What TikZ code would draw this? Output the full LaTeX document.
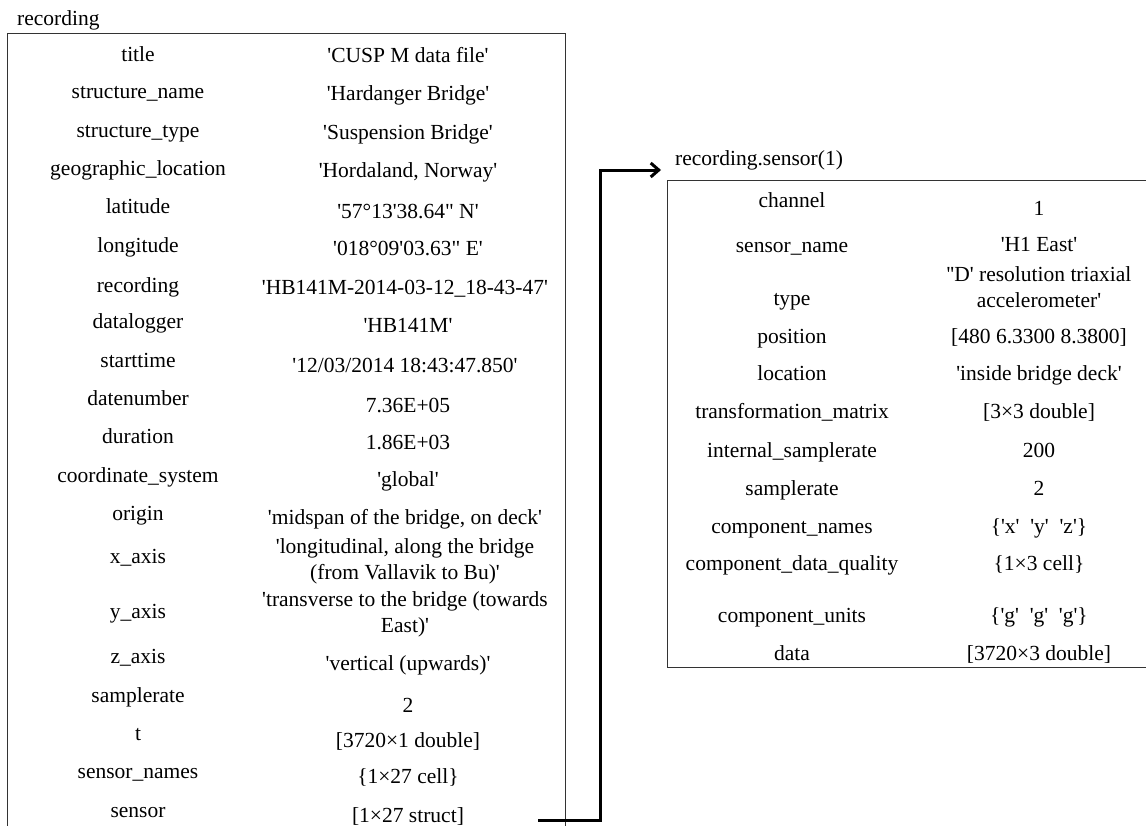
\documentclass[tikz,border=0pt]{standalone}
\usepackage{fontspec}
\setmainfont{Liberation Serif}[Ligatures=TeXOff]
\usetikzlibrary{arrows.meta}
\begin{document}
\begin{tikzpicture}[x=1pt,y=-1pt,
  txt/.style={inner sep=0pt, text height=15pt, text depth=5pt, align=center,
    font=\fontsize{21.5}{26}\selectfont},
  fname/.style={txt},
  fval/.style={txt},
  fval2/.style={inner sep=0pt, align=center, font=\fontsize{21.5}{26}\selectfont},
  boxline/.style={draw=black!80, line width=1pt},
  link/.style={draw=black, line width=3pt, line cap=butt},
]
\useasboundingbox (0,0) rectangle (1146,825);

% ---------- left structure ----------
\node[txt, anchor=west] (labL) at (17,20) {recording};
\draw[boxline] (7,826) -- (7,33) -- (565,33) -- (565,826);

\node[fname] (n1) at (138,56) {title};
\node[fval]  (v1) at (408,57) {'CUSP M data file'};
\node[fname] (n2) at (138,93) {structure\_name};
\node[fval]  (v2) at (408,95) {'Hardanger Bridge'};
\node[fname] (n3) at (138,132) {structure\_type};
\node[fval]  (v3) at (408,134) {'Suspension Bridge'};
\node[fname] (n4) at (138,170) {geographic\_location};
\node[fval]  (v4) at (408,172) {'Hordaland, Norway'};
\node[fname] (n5) at (138,208) {latitude};
\node[fval]  (v5) at (408,213) {'57°13'38.64" N'};
\node[fname] (n6) at (138,247) {longitude};
\node[fval]  (v6) at (408,250) {'018°09'03.63" E'};
\node[fname] (n7) at (138,287) {recording};
\node[fval]  (v7) at (405,289) {'HB141M-2014-03-12\_18-43-47'};
\node[fname] (n8) at (138,323) {datalogger};
\node[fval]  (v8) at (408,327) {'HB141M'};
\node[fname] (n9) at (138,362) {starttime};
\node[fval]  (v9) at (405,367) {'12/03/2014 18:43:47.850'};
\node[fname] (n10) at (138,400) {datenumber};
\node[fval]  (v10) at (408,407) {7.36E+05};
\node[fname] (n11) at (138,438) {duration};
\node[fval]  (v11) at (408,444) {1.86E+03};
\node[fname] (n12) at (138,477) {coordinate\_system};
\node[fval]  (v12) at (408,481) {'global'};
\node[fname] (n13) at (138,515) {origin};
\node[fval]  (v13) at (405,519) {'midspan of the bridge, on deck'};
\node[fname] (n14) at (138,558) {x\_axis};
\node[fval2] (v14) at (405,561) {'longitudinal, along the bridge\\(from Vallavik to Bu)'};
\node[fname] (n15) at (138,613) {y\_axis};
\node[fval2] (v15) at (405,614) {'transverse to the bridge (towards\\East)'};
\node[fname] (n16) at (138,658) {z\_axis};
\node[fval]  (v16) at (408,665) {'vertical (upwards)'};
\node[fname] (n17) at (138,697) {samplerate};
\node[fval]  (v17) at (408,707) {2};
\node[fname] (n18) at (138,735) {t};
\node[fval]  (v18) at (408,742) {[3720×1 double]};
\node[fname] (n19) at (138,773) {sensor\_names};
\node[fval]  (v19) at (408,778) {\{1×27 cell\}};
\node[fname] (n20) at (138,812) {sensor};
\node[fval]  (v20) at (408,817) {[1×27 struct]};

% ---------- right structure ----------
\node[txt, anchor=west] (labR) at (675,160) {recording.sensor(1)};
\draw[boxline] (1147,180) -- (667,180) -- (667,667) -- (1147,667);

\node[fname] (m1) at (792,202) {channel};
\node[fval]  (w1) at (1039,210) {1};
\node[fname] (m2) at (792,247) {sensor\_name};
\node[fval]  (w2) at (1039,246) {'H1 East'};
\node[fname] (m3) at (792,300) {type};
\node[fval2] (w3) at (1039,287) {''D' resolution triaxial\\accelerometer'};
\node[fname] (m4) at (792,338) {position};
\node[fval]  (w4) at (1039,338) {[480 6.3300 8.3800]};
\node[fname] (m5) at (792,375) {location};
\node[fval]  (w5) at (1039,375) {'inside bridge deck'};
\node[fname] (m6) at (792,413) {transformation\_matrix};
\node[fval]  (w6) at (1039,413) {[3×3 double]};
\node[fname] (m7) at (792,452) {internal\_samplerate};
\node[fval]  (w7) at (1039,452) {200};
\node[fname] (m8) at (792,490) {samplerate};
\node[fval]  (w8) at (1039,490) {2};
\node[fname] (m9) at (792,528) {component\_names};
\node[fval]  (w9) at (1039,528) {\{'x'\ \ 'y'\ \ 'z'\}};
\node[fname] (m10) at (792,565) {component\_data\_quality};
\node[fval]  (w10) at (1039,565) {\{1×3 cell\}};
\node[fname] (m11) at (792,617) {component\_units};
\node[fval]  (w11) at (1039,617) {\{'g'\ \ 'g'\ \ 'g'\}};
\node[fname] (m12) at (792,655) {data};
\node[fval]  (w12) at (1039,655) {[3720×3 double]};

% ---------- connector ----------
\coordinate (aStart) at (538,820);
\coordinate (aEnd) at (661,170);
\draw[link, -{Straight Barb[length=8pt,width=14pt]}]
  (aStart) -| (600,170) -- (aEnd);
\end{tikzpicture}
\end{document}
